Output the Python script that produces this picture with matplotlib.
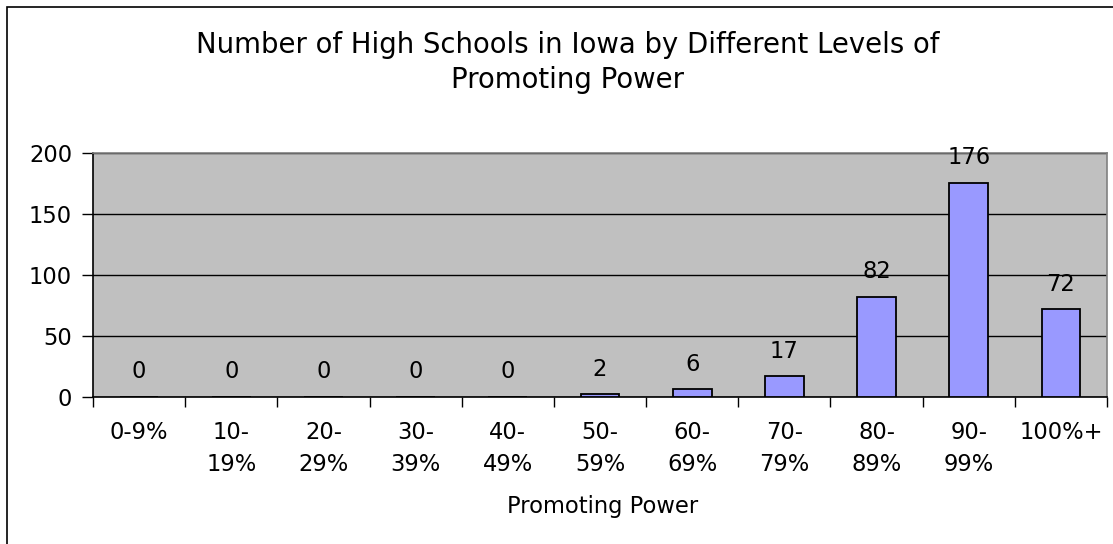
import matplotlib
matplotlib.use("Agg")
import matplotlib.pyplot as plt
from matplotlib.patches import Rectangle
import numpy as np

categories = ["0-9%", "10-\n19%", "20-\n29%", "30-\n39%", "40-\n49%", "50-\n59%",
              "60-\n69%", "70-\n79%", "80-\n89%", "90-\n99%", "100%+"]
counts = [0, 0, 0, 0, 0, 2, 6, 17, 82, 176, 72]
yticks = [0, 50, 100, 150, 200]
title_lines = ["Number of High Schools in Iowa by Different Levels of", "Promoting Power"]
xlabel = "Promoting Power"

plt.rcParams['font.family'] = ['DejaVu Sans']
FS = 16.3

W, H = 1113, 544
fig = plt.figure(figsize=(W / 100, H / 100), dpi=100)
fig.patch.set_facecolor('white')

# chart-area border (extends past the cropped right/bottom edges)
fig.patches.append(Rectangle((7 / W, -0.1), 1.2, (H - 7) / H + 0.1, transform=fig.transFigure,
                             fill=False, edgecolor='black', linewidth=1.2))

L, R, T, B = 93, 1107, 153.3, 396.7
ax = fig.add_axes([L / W, (H - B) / H, (R - L) / W, (B - T) / H])
ax.set_facecolor('#C0C0C0')

x = np.arange(len(categories)) + 0.5
ax.bar(x, counts, width=0.42, color='#9999FF', edgecolor='black', linewidth=1.3, zorder=3)

for xi, v in zip(x, counts):
    ax.annotate(str(v), (xi, v), xytext=(0, 13.3), textcoords='offset points',
                ha='center', va='baseline', fontsize=FS, zorder=4)

ax.set_xlim(0, len(categories))
ax.set_ylim(0, 200)
ax.set_yticks(yticks)
ax.yaxis.grid(True, color='black', linewidth=1.0, zorder=1)
ax.set_axisbelow(True)
ax.tick_params(axis='y', direction='out', length=8, width=1, pad=7, labelsize=FS)

ax.set_xticks(np.arange(len(categories) + 1))
ax.set_xticklabels([])
ax.tick_params(axis='x', which='major', direction='out', length=7, width=1)
ax.set_xticks(x, minor=True)
ax.set_xticklabels(categories, minor=True, fontsize=FS, linespacing=1.5, va='top')
ax.tick_params(axis='x', which='minor', length=0, pad=17.5)

for s in ['left', 'bottom']:
    ax.spines[s].set_color('black')
    ax.spines[s].set_linewidth(1.2)
for s in ['top', 'right']:
    ax.spines[s].set_color('#808080')
    ax.spines[s].set_linewidth(1.2)

fig.text(602.7 / W, 1 - 513 / H, xlabel, ha='center', va='baseline', fontsize=FS)
fig.text(567.5 / W, 1 - 53.3 / H, title_lines[0], ha='center', va='baseline', fontsize=19.8)
fig.text(567.5 / W, 1 - 88 / H, title_lines[1], ha='center', va='baseline', fontsize=19.8)

fig.savefig('out.png', dpi=100)
